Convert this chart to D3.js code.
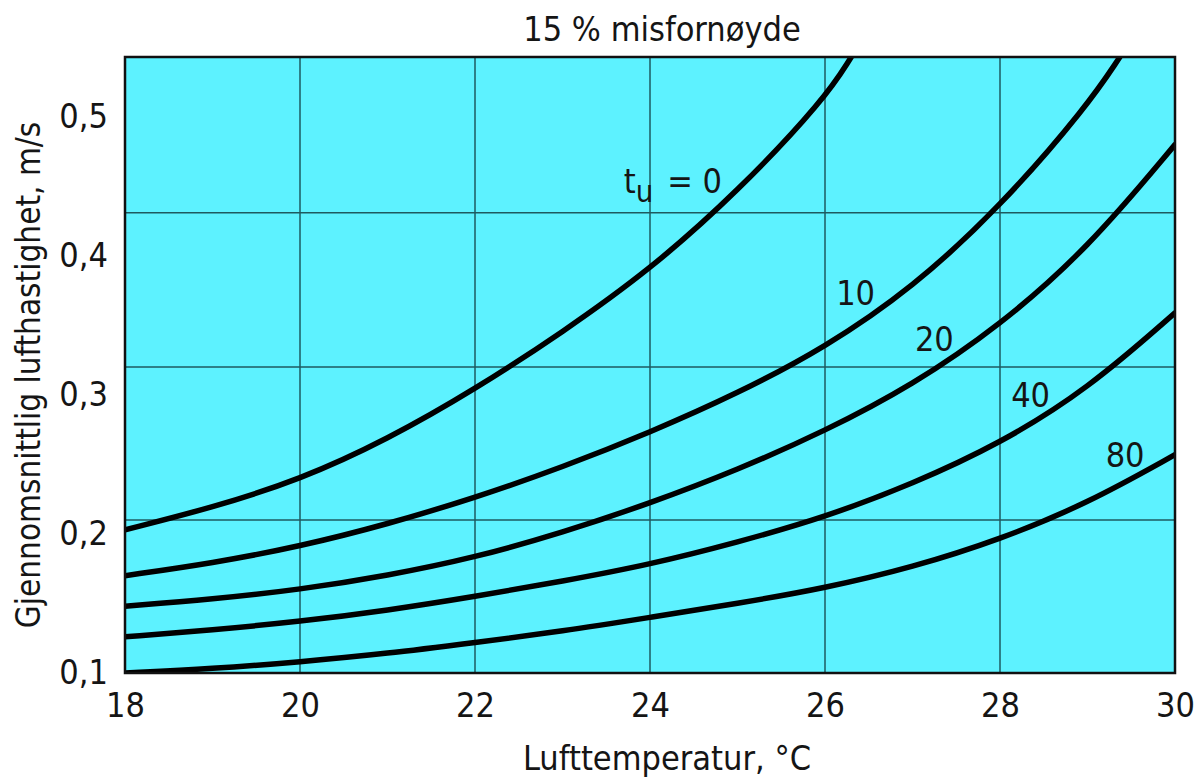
<!DOCTYPE html>
<html>
<head>
<meta charset="utf-8">
<script src="https://cdn.jsdelivr.net/npm/d3@7"></script>
<style>
  html, body { margin: 0; padding: 0; background: #ffffff; }
  svg { display: block; }
  text { font-family: "DejaVu Sans Condensed", "Liberation Sans Narrow", "DejaVu Sans", sans-serif; fill: #151515; }
</style>
</head>
<body>
<svg id="chart" width="1198" height="778"></svg>
<script>
// ---- data ----
const title = "15 % misfornøyde";
const xTitle = "Lufttemperatur, °C";
const yTitle = "Gjennomsnittlig lufthastighet, m/s";

const tempTicks = [18, 20, 22, 24, 26, 28, 30];
const speedTicks = [0.1, 0.2, 0.3, 0.4, 0.5];
const speedTickLabels = ["0,1", "0,2", "0,3", "0,4", "0,5"];
const gridSpeeds = [0.21, 0.32, 0.431];   // horizontal grid rules (not on the labelled values)

const seriesNames = ["0", "10", "20", "40", "80"];

const temp_tu0  = [18, 19, 20, 21, 22, 23, 24, 25, 26, 26.3];
const speed_tu0 = [0.203, 0.219, 0.239, 0.268, 0.304, 0.345, 0.390, 0.446, 0.513, 0.543];

const temp_tu10  = [18, 19, 20, 21, 22, 23, 24, 25, 26, 27, 28, 29, 29.37];
const speed_tu10 = [0.170, 0.179, 0.191, 0.207, 0.226, 0.248, 0.273, 0.301, 0.334, 0.377, 0.435, 0.508, 0.543];

const temp_tu20  = [18, 19, 20, 21, 22, 23, 24, 25, 26, 27, 28, 29, 30];
const speed_tu20 = [0.148, 0.153, 0.160, 0.170, 0.183, 0.201, 0.222, 0.246, 0.274, 0.307, 0.350, 0.405, 0.480];

const temp_tu40  = [18, 19, 20, 21, 22, 23, 24, 25, 26, 27, 28, 29, 30];
const speed_tu40 = [0.126, 0.131, 0.137, 0.145, 0.155, 0.166, 0.178, 0.194, 0.212, 0.236, 0.265, 0.304, 0.359];

const temp_tu80  = [18, 19, 20, 21, 22, 23, 24, 25, 26, 27, 28, 29, 30];
const speed_tu80 = [0.100, 0.103, 0.108, 0.114, 0.122, 0.130, 0.140, 0.150, 0.161, 0.176, 0.196, 0.222, 0.257];

// curve label anchors (temperature, speed)
const labelTemps  = [23.70, 26.35, 27.25, 28.35, 29.43];
const labelSpeeds = [0.445, 0.373, 0.340, 0.300, 0.257];

// ---- layout ----
const W = 1198, H = 778;
const plot = { left: 125, right: 1175, top: 57, bottom: 673 };
const svg = d3.select("#chart");

const x = d3.scaleLinear().domain([18, 30]).range([plot.left, plot.right]);
const y = d3.scaleLinear().domain([0.1, 0.543]).range([plot.bottom, plot.top]);

// background
svg.append("rect").attr("x", 0).attr("y", 0).attr("width", W).attr("height", H).attr("fill", "#ffffff");
svg.append("rect")
  .attr("x", plot.left).attr("y", plot.top)
  .attr("width", plot.right - plot.left).attr("height", plot.bottom - plot.top)
  .attr("fill", "#5df2ff");

// grid
const gridColor = "#1e5a60";
svg.append("g").selectAll("line").data(tempTicks.slice(1, -1)).join("line")
  .attr("x1", d => x(d)).attr("x2", d => x(d))
  .attr("y1", plot.top).attr("y2", plot.bottom)
  .attr("stroke", gridColor).attr("stroke-width", 1.5);
svg.append("g").selectAll("line").data(gridSpeeds).join("line")
  .attr("x1", plot.left).attr("x2", plot.right)
  .attr("y1", d => y(d)).attr("y2", d => y(d))
  .attr("stroke", gridColor).attr("stroke-width", 1.5);

// clip
svg.append("clipPath").attr("id", "clip").append("rect")
  .attr("x", plot.left).attr("y", plot.top)
  .attr("width", plot.right - plot.left).attr("height", plot.bottom - plot.top);

const series = [
  { name: seriesNames[0], t: temp_tu0,  v: speed_tu0 },
  { name: seriesNames[1], t: temp_tu10, v: speed_tu10 },
  { name: seriesNames[2], t: temp_tu20, v: speed_tu20 },
  { name: seriesNames[3], t: temp_tu40, v: speed_tu40 },
  { name: seriesNames[4], t: temp_tu80, v: speed_tu80 }
];

const line = d3.line().x(d => x(d[0])).y(d => y(d[1])).curve(d3.curveBasis);

svg.append("g").attr("clip-path", "url(#clip)")
  .selectAll("path").data(series).join("path")
  .attr("d", s => line(s.t.map((t, i) => [t, s.v[i]])))
  .attr("fill", "none").attr("stroke", "#000").attr("stroke-width", 5.5)
  .attr("stroke-linecap", "round");

// frame
svg.append("rect")
  .attr("x", plot.left).attr("y", plot.top)
  .attr("width", plot.right - plot.left).attr("height", plot.bottom - plot.top)
  .attr("fill", "none").attr("stroke", "#111").attr("stroke-width", 2.5);

// axes (labels only, no tick marks)
const fs = 34;
const xAxis = d3.axisBottom(x).tickValues(tempTicks).tickSize(0).tickPadding(20).tickFormat(d3.format("d"));
const gx = svg.append("g").attr("transform", `translate(0,${plot.bottom})`).call(xAxis);
gx.select(".domain").remove();
gx.selectAll("text").attr("font-size", fs).attr("fill", "#151515").attr("font-family", null);

const yAxis = d3.axisLeft(y).tickValues(speedTicks).tickSize(0).tickPadding(17)
  .tickFormat((d, i) => speedTickLabels[i]);
const gy = svg.append("g").attr("transform", `translate(${plot.left},0)`).call(yAxis);
gy.select(".domain").remove();
gy.selectAll("text").attr("font-size", fs).attr("fill", "#151515").attr("font-family", null);

// curve labels
series.forEach((s, i) => {
  if (i === 0) {
    const t = svg.append("text")
      .attr("x", x(labelTemps[i])).attr("y", y(labelSpeeds[i]))
      .attr("font-size", fs);
    t.append("tspan").text("t");
    t.append("tspan").attr("font-size", fs * 0.9).attr("dy", 9).text("u");
    t.append("tspan").attr("dy", -9).attr("dx", 14).text("=  " + s.name);
  } else {
    svg.append("text")
      .attr("x", x(labelTemps[i])).attr("y", y(labelSpeeds[i]))
      .attr("text-anchor", "middle").attr("dominant-baseline", "central")
      .attr("font-size", fs).text(s.name);
  }
});

// titles
svg.append("text").attr("x", 662).attr("y", 41).attr("text-anchor", "middle")
  .attr("font-size", fs).text(title);
svg.append("text").attr("x", 667).attr("y", 770).attr("text-anchor", "middle")
  .attr("font-size", fs).text(xTitle);
svg.append("text").attr("transform", `translate(40,${(plot.top + plot.bottom) / 2 + 10}) rotate(-90)`)
  .attr("text-anchor", "middle").attr("font-size", 33).text(yTitle);
</script>
</body>
</html>
